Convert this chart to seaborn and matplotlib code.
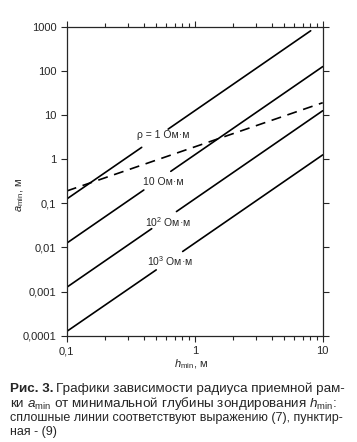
import numpy as np
import pandas as pd
import matplotlib
matplotlib.use("Agg")
import matplotlib.pyplot as plt
import matplotlib.ticker as mticker
import seaborn as sns

# solid lines (7): segment end points, gaps leave room for labels
rho1_h = [0.1, 0.385, 0.62, 8.05]
rho1_a = [0.125, 1.85, 4.8, 810]
rho10_h = [0.1, 0.40, 0.65, 10]
rho10_a = [0.0125, 0.2, 0.53, 125]
rho100_h = [0.1, 0.461, 0.72, 10]
rho100_a = [0.00125, 0.0266, 0.065, 12.5]
rho1000_h = [0.1, 0.50, 0.805, 10]
rho1000_a = [0.000125, 0.0031, 0.0081, 1.25]
seg_id = [0, 0, 1, 1]

# dashed line (9)
dash_h = [0.1, 10]
dash_a = [0.19, 19]

line_labels = ["ρ = 1 Ом·м", "10 Ом·м", "10$^{2}$ Ом·м", "10$^{3}$ Ом·м"]
label_h = [0.355, 0.396, 0.409, 0.424]
label_a = [3.5, 0.31, 0.038, 0.005]

x_ticks = [0.1, 1, 10]
x_ticklabels = ["0,1", "1", "10"]
y_ticks = [0.0001, 0.001, 0.01, 0.1, 1, 10, 100, 1000]
y_ticklabels = ["0,0001", "0,001", "0,01", "0,1", "1", "10", "100", "1000"]

sns.set_style("ticks")
plt.rcParams['font.family'] = ['Liberation Sans', 'DejaVu Sans']
plt.rcParams['mathtext.fontset'] = 'custom'
plt.rcParams['mathtext.rm'] = 'Liberation Sans'
plt.rcParams['mathtext.it'] = 'Liberation Sans:italic'

rows = []
for name, hh, aa in [("1", rho1_h, rho1_a), ("10", rho10_h, rho10_a),
                     ("100", rho100_h, rho100_a), ("1000", rho1000_h, rho1000_a)]:
    for h, a, s in zip(hh, aa, seg_id):
        rows.append({"h": h, "a": a, "seg": name + "_" + str(s)})
df = pd.DataFrame(rows)
df_dash = pd.DataFrame({"h": dash_h, "a": dash_a, "seg": 0})

fig = plt.figure(figsize=(3.57, 4.42), dpi=100)
ax = fig.add_axes([0.187, 0.2405, 0.717, 0.699])

sns.lineplot(data=df, x="h", y="a", units="seg", estimator=None,
             color="black", lw=1.2, ax=ax)
sns.lineplot(data=df_dash, x="h", y="a", units="seg", estimator=None,
             color="black", lw=1.2, ax=ax, linestyle=(0, (6, 4)))

for t, h, a in zip(line_labels, label_h, label_a):
    ax.text(h, a, t, fontsize=7.5, ha="left", va="center")

ax.set_xscale("log")
ax.set_yscale("log")
ax.set_xlim(0.1, 10)
ax.set_ylim(0.0001, 1000)
ax.set_xticks(x_ticks)
ax.set_xticklabels(x_ticklabels)
ax.set_yticks(y_ticks)
ax.set_yticklabels(y_ticklabels)
ax.xaxis.set_minor_locator(mticker.LogLocator(base=10, subs=np.arange(2, 10)))
ax.xaxis.set_minor_formatter(mticker.NullFormatter())
ax.yaxis.set_minor_locator(mticker.NullLocator())
ax.tick_params(which="both", direction="out", top=True, right=True,
               labeltop=False, labelright=False, labelsize=8, width=0.8)
ax.tick_params(which="major", length=4)
ax.tick_params(which="minor", length=3)
for sp in ax.spines.values():
    sp.set_visible(True)
    sp.set_linewidth(0.9)
ax.set_xlabel("")
ax.set_ylabel("")

fig.text(20 / 357, 1 - 195 / 442, "$a_{\\mathrm{min}}$, м", rotation=90,
         fontsize=8, ha="center", va="center")
fig.text(191 / 357, 1 - 364 / 442, "$h_{\\mathrm{min}}$, м",
         fontsize=8, ha="center", va="center")

# caption
cap_size = 9.7
x0 = 10 / 357
fig.canvas.draw()
r = fig.canvas.get_renderer()
b = fig.text(x0, 1 - 392 / 442, "Рис. 3.", fontsize=cap_size, fontweight="bold",
             ha="left", va="baseline")
bb = b.get_window_extent(renderer=r)
fig.text(bb.x1 / fig.bbox.width + 3 / 357, 1 - 392 / 442,
         "Графики зависимости радиуса приемной рам-",
         fontsize=cap_size, ha="left", va="baseline")
fig.text(x0, 1 - 407 / 442,
         "ки $a_{\\mathrm{min}}$ от минимальной глубины зондирования $h_{\\mathrm{min}}$:",
         fontsize=cap_size, ha="left", va="baseline")
fig.text(x0, 1 - 421 / 442,
         "сплошные линии соответствуют выражению (7), пунктир-",
         fontsize=9.0, ha="left", va="baseline")
fig.text(x0, 1 - 435 / 442, "ная - (9)",
         fontsize=9.0, ha="left", va="baseline")

fig.savefig("out.png", dpi=100)
